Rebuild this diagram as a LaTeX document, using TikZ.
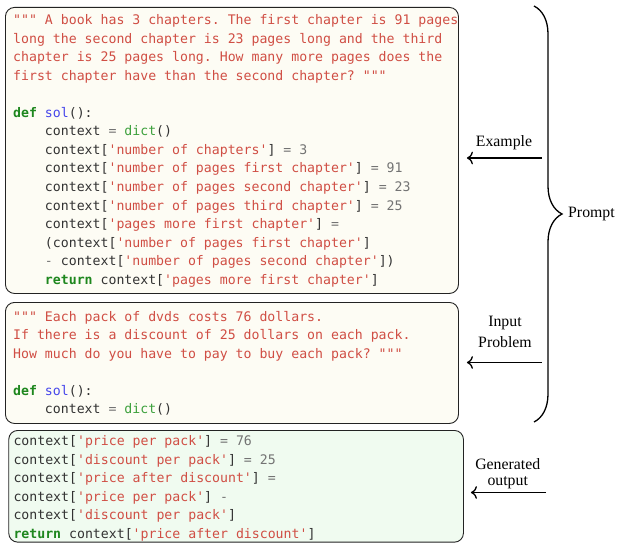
\documentclass[tikz,border=0pt]{standalone}
\usepackage{fontspec}
\setmainfont{Liberation Serif}
\setmonofont{DejaVu Sans Mono}
\usetikzlibrary{decorations.pathreplacing,positioning,arrows.meta}

\definecolor{pytext}{RGB}{50,50,50}
\definecolor{pyred}{RGB}{208,78,68}
\definecolor{pygreen}{RGB}{30,135,30}
\definecolor{pybuiltin}{RGB}{60,160,60}
\definecolor{pyblue}{RGB}{70,70,235}
\definecolor{pygray}{RGB}{115,115,115}
\definecolor{promptbg}{RGB}{253,252,244}
\definecolor{outbg}{RGB}{240,251,240}
\definecolor{boxline}{RGB}{35,35,35}

\newcommand{\pys}[1]{\textcolor{pyred}{#1}}
\newcommand{\pyk}[1]{\textcolor{pygreen}{\bfseries #1}}
\newcommand{\pyb}[1]{\textcolor{pybuiltin}{#1}}
\newcommand{\pyf}[1]{\textcolor{pyblue}{#1}}
\newcommand{\pyo}[1]{\textcolor{pygray}{#1}}
\newcommand{\ind}{\phantom{0000}}
% spazi larghi come un carattere
\newcommand{\codesp}{\spaceskip=\fontcharwd\font`\0\relax\xspaceskip=\spaceskip}

\tikzset{
  codebox/.style={draw=boxline, line width=0.9pt, rounded corners=9pt,
    anchor=north west, inner sep=0pt},
  codetext/.style={anchor=base west, text width=480pt,
    inner sep=0pt, text=pytext,
    font=\ttfamily\fontsize{13.2}{18.55}\selectfont},
  lbl/.style={inner sep=0pt, font=\fontsize{15.8}{21.7}\selectfont},
  arr/.style={-{To[scale=1.35]}, line width=1.3pt},
  bracestyle/.style={decorate, decoration={brace, amplitude=28pt},
    line width=1.3pt},
}

\begin{document}
\begin{tikzpicture}[x=1pt,y=-1pt]
    \useasboundingbox (0,0) rectangle (623,543);
    % riquadri
    \node[codebox, fill=promptbg, minimum width=453pt, minimum height=286pt]
      (example) at (5,7) {};
    \node[codebox, fill=promptbg, minimum width=453pt, minimum height=121pt]
      (problem) at (5,302) {};
    \node[codebox, fill=outbg, minimum width=454.7pt, minimum height=111.7pt]
      (output) at (8.3,430) {};
    % codice dell'esempio
    \node[codetext] (example-code) at (13,24.5) {\codesp
      \pys{""" A book has 3 chapters. The first chapter is 91 pages}\\
      \pys{long the second chapter is 23 pages long and the third}\\
      \pys{chapter is 25 pages long. How many more pages does the}\\
      \pys{first chapter have than the second chapter? """}\\[18.55pt]
      \pyk{def} \pyf{sol}():\\
      \ind context \pyo{=} \pyb{dict}()\\
      \ind context[\pys{'number of chapters'}] \pyo{= 3}\\
      \ind context[\pys{'number of pages first chapter'}] \pyo{= 91}\\
      \ind context[\pys{'number of pages second chapter'}] \pyo{= 23}\\
      \ind context[\pys{'number of pages third chapter'}] \pyo{= 25}\\
      \ind context[\pys{'pages more first chapter'}] \pyo{=}\\
      \ind (context[\pys{'number of pages first chapter'}]\\
      \ind \pyo{-} context[\pys{'number of pages second chapter'}])\\
      \ind \pyk{return} context[\pys{'pages more first chapter'}]};
    % problema in ingresso
    \node[codetext] (problem-code) at (13,321) {\codesp
      \pys{""" Each pack of dvds costs 76 dollars.}\\
      \pys{If there is a discount of 25 dollars on each pack.}\\
      \pys{How much do you have to pay to buy each pack? """}\\[18.55pt]
      \pyk{def} \pyf{sol}():\\
      \ind context \pyo{=} \pyb{dict}()};
    % uscita generata
    \node[codetext] (output-code) at (13.3,445.7) {\codesp
      context[\pys{'price per pack'}] \pyo{= 76}\\
      context[\pys{'discount per pack'}] \pyo{= 25}\\
      context[\pys{'price after discount'}] \pyo{=}\\
      context[\pys{'price per pack'}] \pyo{-}\\
      context[\pys{'discount per pack'}]\\
      \pyk{return} context[\pys{'price after discount'}]};
    % graffa del prompt
    \coordinate (brace-top) at (534,6);
    \coordinate (brace-bot) at (534,422);
    \coordinate (brace-tip) at (562,214);
    \draw[bracestyle] (brace-top) -- (brace-bot);
    \node[lbl, right=6pt of brace-tip] (prompt) {Prompt};
    % frecce ed etichette
    \coordinate (example-in) at (541.7,158);
    \coordinate (problem-in) at (541.7,362.5);
    \coordinate (output-in) at (546,492.5);
    \draw[arr, shorten >=8pt] (example-in) -- (example-in -| example.east);
    \draw[arr, shorten >=8pt] (problem-in) -- (problem-in -| problem.east);
    \draw[arr, shorten >=7pt] (output-in) -- (output-in -| output.east);
    \node[lbl, anchor=base] (example-lbl) at (504,146.7) {Example};
    \node[lbl, align=center, anchor=north] (problem-lbl) at (505,315.6)
      {Input\\Problem};
    \node[lbl, align=center, anchor=north, font=\fontsize{15.8}{15.5}\selectfont]
      (output-lbl) at (507.7,458.6) {Generated\\output};
\end{tikzpicture}
\end{document}
